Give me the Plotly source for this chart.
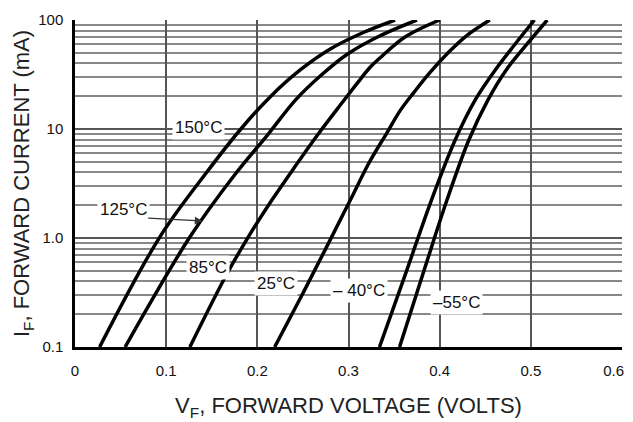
import math
import plotly.graph_objects as go

# Forward voltage (V) / forward current (mA)
temps = ["150°C", "125°C", "85°C", "25°C", "-40°C", "-55°C"]

v_150 = [0.027, 0.093, 0.143, 0.181, 0.214, 0.247, 0.280, 0.315, 0.351]
i_150 = [0.1, 1.02, 3.86, 9.79, 19.7, 34.8, 54.2, 76.0, 100]

v_125 = [0.055, 0.126, 0.175, 0.212, 0.242, 0.269, 0.299, 0.334, 0.375]
i_125 = [0.1, 1.02, 3.78, 8.99, 18.5, 30.6, 48.7, 71.3, 100]

v_85 = [0.126, 0.166, 0.190, 0.216, 0.241, 0.266, 0.291, 0.309, 0.323, 0.337, 0.362, 0.400]
i_85 = [0.1, 0.458, 1.02, 2.23, 4.48, 8.81, 16.6, 25.9, 36.3, 46.8, 69.8, 100]

v_25 = [0.219, 0.249, 0.277, 0.302, 0.323, 0.342, 0.357, 0.372, 0.389, 0.409, 0.429, 0.455]
i_25 = [0.1, 0.30, 0.86, 2.23, 4.98, 9.18, 14.9, 21.8, 32.7, 49.8, 71.3, 100]

v_m40 = [0.334, 0.364, 0.391, 0.417, 0.439, 0.461, 0.482, 0.504]
i_m40 = [0.1, 0.508, 2.23, 7.93, 18.5, 34.8, 59.0, 100]

v_m55 = [0.356, 0.383, 0.408, 0.432, 0.453, 0.473, 0.495, 0.518]
i_m55 = [0.1, 0.508, 2.23, 7.93, 18.5, 34.8, 59.0, 100]

x_ticks = [0, 0.1, 0.2, 0.3, 0.4, 0.5, 0.6]
# last label padded with no-break spaces so it stays inside the page
x_tick_text = ["0", "0.1", "0.2", "0.3", "0.4", "0.5", "0.6\u00a0\u00a0\u00a0\u00a0"]
y_ticks = [0.1, 1, 10, 100]
y_tick_text = ["0.1", "1.0", "10", "100"]

# curve labels (V, mA) and texts
label_text = ["150°C", "125°C", "85°C", "25°C", "– 40°C", "–55°C"]
label_v = [0.135, 0.053, 0.146, 0.221, 0.312, 0.419]
label_i = [10.4, 1.81, 0.54, 0.386, 0.333, 0.254]

# arrow tip on the 125°C curve (V, mA)
arrow_v = 0.140
arrow_i = 1.43

series = [(v_150, i_150), (v_125, i_125), (v_85, i_85),
          (v_25, i_25), (v_m40, i_m40), (v_m55, i_m55)]

fig = go.Figure()
for name, (vv, ii) in zip(temps, series):
    fig.add_trace(go.Scatter(
        x=vv, y=ii, mode="lines", name=name,
        line=dict(color="black", width=3.5, shape="spline", smoothing=1.0),
        showlegend=False, hoverinfo="skip"))

font = "Liberation Sans, Arial, sans-serif"
for t, vx, iy in zip(label_text, label_v, label_i):
    fig.add_annotation(x=vx, y=math.log10(iy), yref="y", xref="x", text=t,
                       showarrow=False,
                       font=dict(family=font, size=17, color="#111"),
                       bgcolor="white", borderpad=2)

fig.add_annotation(x=arrow_v, y=math.log10(arrow_i), xref="x", yref="y", text="",
                   showarrow=True, arrowhead=2, arrowsize=1.3, arrowwidth=1.2,
                   arrowcolor="#333", ax=-56, ay=-3, standoff=0)

fig.update_xaxes(
    range=[0, 0.6], tickvals=x_ticks, ticktext=x_tick_text,
    showgrid=True, gridcolor="#555", gridwidth=1.5,
    showline=True, linecolor="black", linewidth=3,
    ticks="", ticklabelstandoff=8, zeroline=False, automargin=False,
    ticklabeloverflow="allow",
    tickfont=dict(family=font, size=15, color="#111"),
    title=dict(text="V<sub>F</sub>, FORWARD VOLTAGE (VOLTS)",
               font=dict(family=font, size=22, color="#222"), standoff=20))

fig.update_yaxes(
    type="log", range=[-1, 2], tickvals=y_ticks, ticktext=y_tick_text,
    showgrid=True, gridcolor="#555", gridwidth=1.5,
    minor=dict(showgrid=True, gridcolor="#888", gridwidth=1.5,
               tickvals=[k * m for m in (0.1, 1, 10) for k in range(2, 10)]),
    showline=True, linecolor="black", linewidth=2.5,
    ticks="", ticklabelstandoff=6, automargin=False,
    tickfont=dict(family=font, size=15, color="#111"),
    title=dict(text="I<sub>F</sub>, FORWARD CURRENT (mA)",
               font=dict(family=font, size=22, color="#222"), standoff=3))

# the page body adds an 8 px offset, so the figure is made smaller to fit
fig.update_layout(
    width=625, height=414,
    margin=dict(l=67, r=11, t=12, b=75),
    plot_bgcolor="white", paper_bgcolor="white")

fig.write_html("out.html")
